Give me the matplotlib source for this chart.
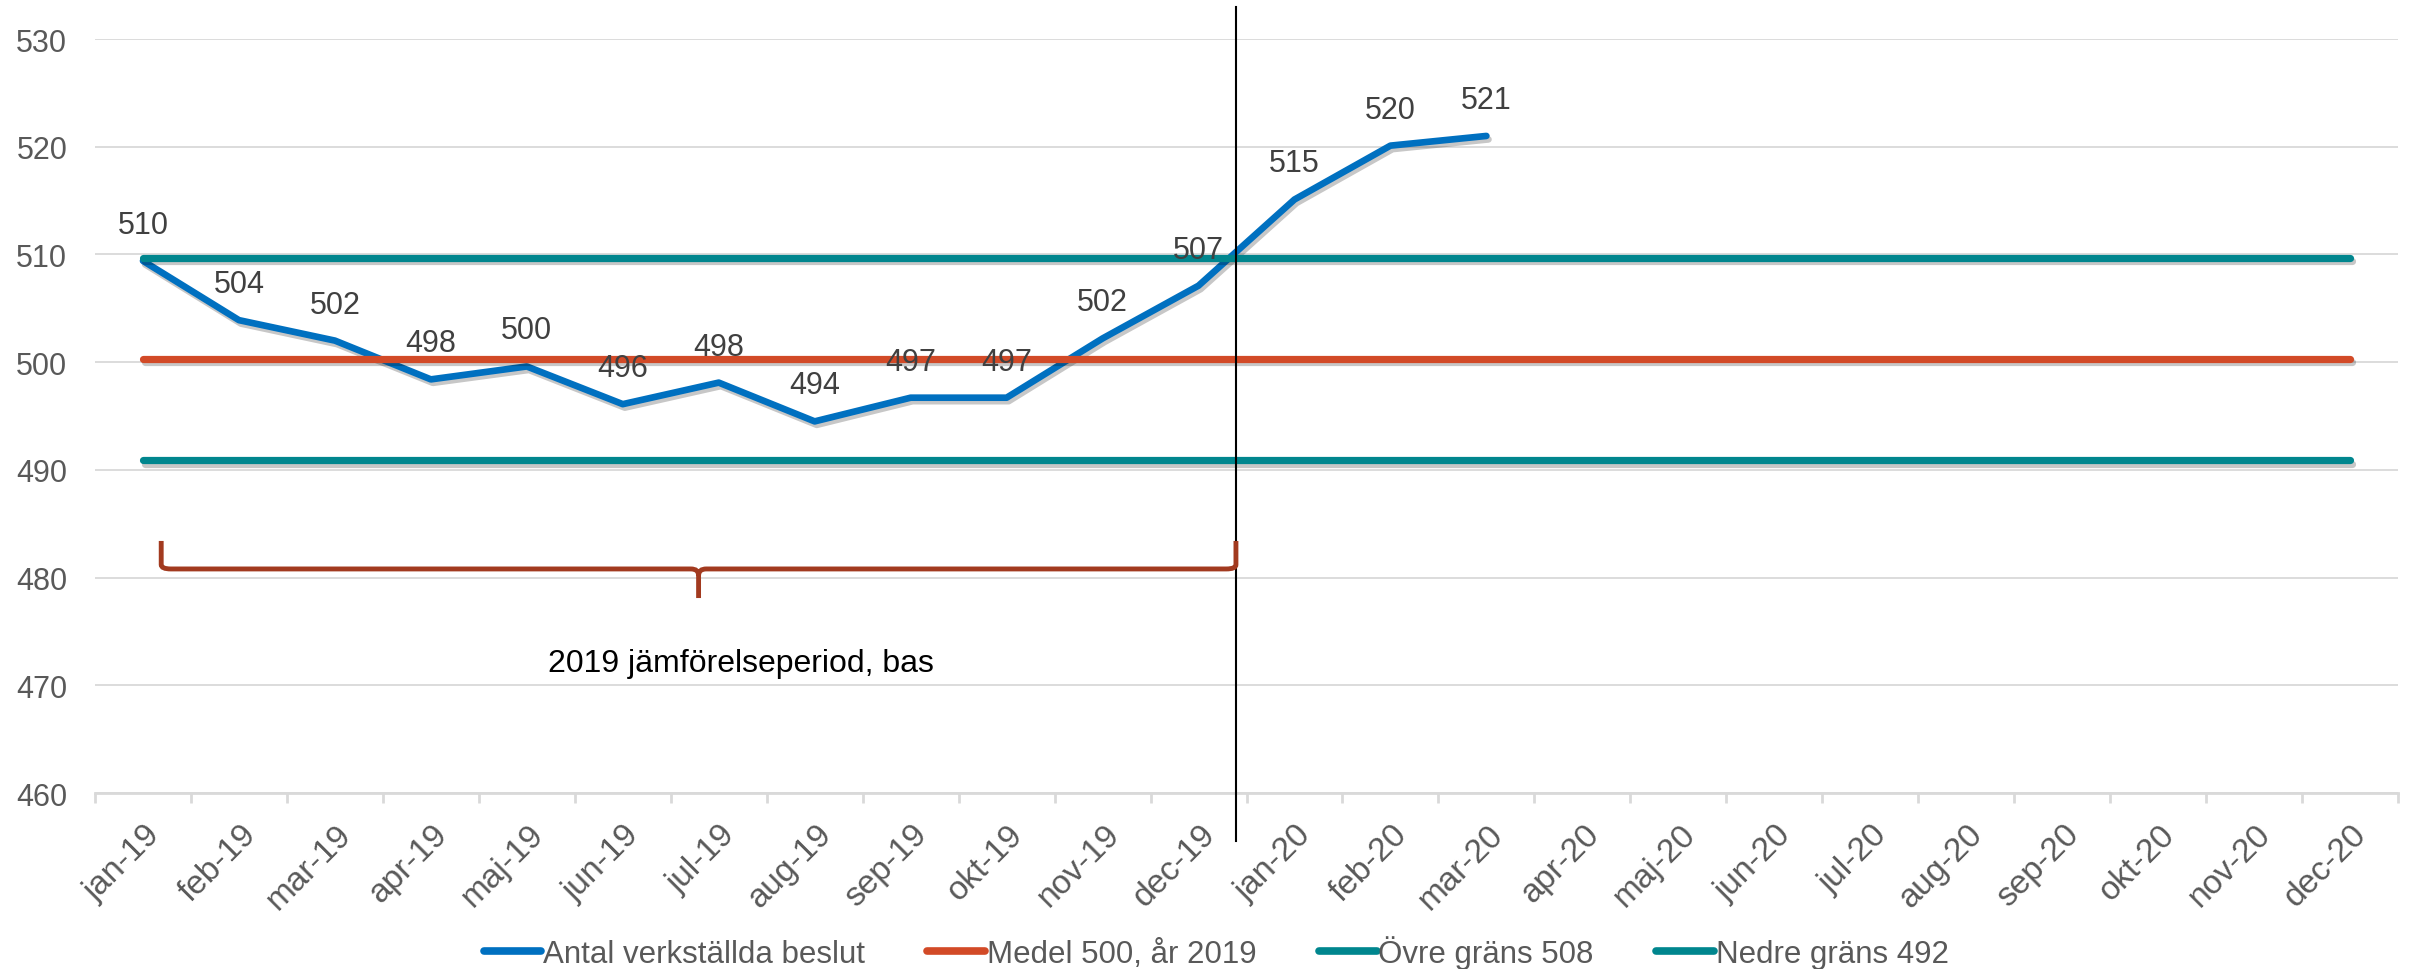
import matplotlib
matplotlib.use("Agg")
import matplotlib.pyplot as plt
import matplotlib.patheffects as pe
from matplotlib.path import Path
from matplotlib.patches import PathPatch
from matplotlib.transforms import ScaledTranslation
import numpy as np

plt.rcParams['font.family'] = ['Liberation Sans', 'DejaVu Sans']

months = ["jan-19", "feb-19", "mar-19", "apr-19", "maj-19", "jun-19",
          "jul-19", "aug-19", "sep-19", "okt-19", "nov-19", "dec-19",
          "jan-20", "feb-20", "mar-20", "apr-20", "maj-20", "jun-20",
          "jul-20", "aug-20", "sep-20", "okt-20", "nov-20", "dec-20"]

# antal verkställda beslut, labels as shown
beslut = [509.4, 503.9, 502.0, 498.4, 499.6, 496.1, 498.1, 494.5,
          496.7, 496.7, 502.2, 507.1, 515.1, 520.1, 521.0]
beslut_labels = ["510", "504", "502", "498", "500", "496", "498", "494",
                 "497", "497", "502", "507", "515", "520", "521"]

medel = 500.3
ovre = 509.7
nedre = 490.9

blue = "#0070C0"
red = "#D24A27"
teal = "#00868E"
brace_col = "#A23A1F"
grid_col = "#D9D9D9"

fig = plt.figure(figsize=(24.09, 9.70), dpi=100)
ax = fig.add_axes([95/2409, 1-794/970, (2398-95)/2409, (794-40)/970])

x = np.arange(len(months))
shadow = [pe.SimpleLineShadow(offset=(1.5, -2.5), shadow_color="black", alpha=0.22), pe.Normal()]

ax.plot(x[:len(beslut)], beslut, color=blue, lw=4.8, solid_capstyle="round",
        solid_joinstyle="round", path_effects=shadow, label="Antal verkställda beslut", zorder=3)
ax.plot(x, [medel]*len(x), color=red, lw=5.2, solid_capstyle="round",
        path_effects=shadow, label="Medel 500, år 2019", zorder=4)
ax.plot(x, [ovre]*len(x), color=teal, lw=5.2, solid_capstyle="round",
        path_effects=shadow, label="Övre gräns 508", zorder=4)
ax.plot(x, [nedre]*len(x), color=teal, lw=5.2, solid_capstyle="round",
        path_effects=shadow, label="Nedre gräns 492", zorder=4)

for xi, yi, lab in zip(x, beslut, beslut_labels):
    ax.annotate(lab, (xi, yi), xytext=(0, 36), textcoords="offset pixels",
                ha="center", va="center", fontsize=22, color="#404040", zorder=6)

ax.set_xlim(-0.5, len(months) - 0.5)
ax.set_ylim(460, 530)
ax.set_yticks(np.arange(460, 531, 10))
ax.grid(axis="y", color=grid_col, lw=1.3)
ax.set_axisbelow(True)

for s in ["top", "right", "left"]:
    ax.spines[s].set_visible(False)
ax.spines["bottom"].set_color(grid_col)
ax.spines["bottom"].set_linewidth(2)

ax.set_xticks(x)
ax.set_xticklabels(months, rotation=45, ha="right", va="center",
                   rotation_mode="anchor", fontsize=24, color="#595959")
ax.set_xticks(np.arange(-0.5, len(months), 1), minor=True)
ax.tick_params(axis="x", which="major", length=0, pad=26)
ax.tick_params(axis="x", which="minor", length=7, width=2, color=grid_col)
ax.tick_params(axis="y", length=0, pad=20, labelsize=22, labelcolor="#595959")
for lab in ax.get_xticklabels():
    lab.set_transform(lab.get_transform() + ScaledTranslation(0.12, 0, fig.dpi_scale_trans))

# vertical divider between 2019 and 2020
ax.plot([11.39, 11.39], [533, 455.5], color="black", lw=1.5, clip_on=False, zorder=5)

# curly brace over the 2019 comparison period
xl, xm, xr = 0.19, 5.79, 11.39
ytop, ybar, ytip = 483.4, 480.8, 478.1
verts = [(xl, ytop), (xl, ybar + 0.4), (xl, ybar), (xl + 0.1, ybar),
         (xm - 0.08, ybar), (xm, ybar), (xm, ybar - 0.6), (xm, ytip),
         (xm, ybar - 0.6), (xm, ybar), (xm + 0.08, ybar),
         (xr - 0.1, ybar), (xr, ybar), (xr, ybar + 0.4), (xr, ytop)]
codes = [Path.MOVETO, Path.LINETO, Path.CURVE3, Path.CURVE3,
         Path.LINETO, Path.CURVE3, Path.CURVE3, Path.LINETO,
         Path.MOVETO, Path.CURVE3, Path.CURVE3,
         Path.LINETO, Path.CURVE3, Path.CURVE3, Path.LINETO]
ax.add_patch(PathPatch(Path(verts, codes), fill=False, edgecolor=brace_col, lw=3.5,
                       capstyle="butt", zorder=5))
ax.text(6.23, 472.06, "2019 jämförelseperiod, bas", ha="center", va="center",
        fontsize=23, color="black")

leg = fig.legend(loc="center", bbox_to_anchor=(1216/2409, 1-953/970), ncol=4,
                 frameon=False, fontsize=22.5, handlelength=1.85, handletextpad=0.05,
                 columnspacing=2.0, labelcolor="#595959")
for h in leg.get_lines():
    h.set_linewidth(5.5)
    h.set_path_effects([])

fig.savefig("out.png", dpi=100)
